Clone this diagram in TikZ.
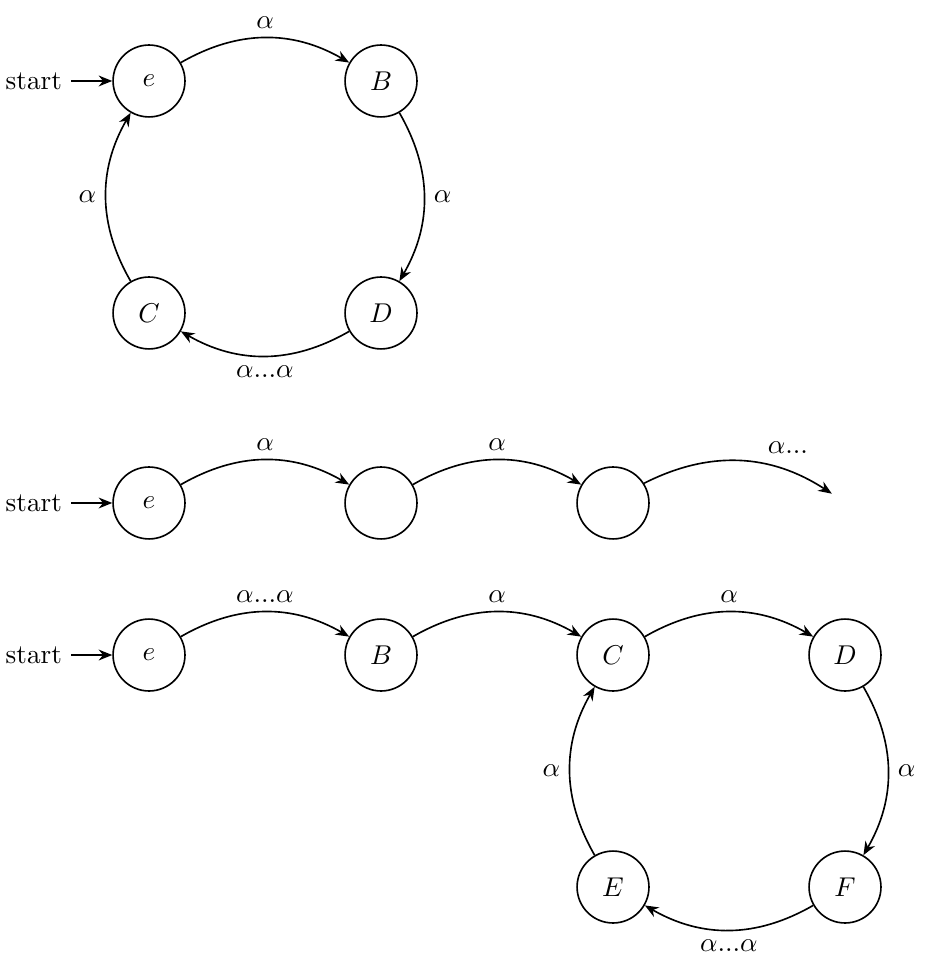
\documentclass[tikz,border=0pt]{standalone}
\usepackage{amsmath,amssymb}
\usepackage{tikz}
\usetikzlibrary{positioning,arrows.meta}

\begin{document}
\begin{tikzpicture}[
  on grid,
  node distance=3cm,
  % Plain circles for the states
  st/.style={circle, draw, semithick, minimum size=0.93cm, inner sep=0pt},
  % Text that marks the initial state
  starttxt/.style={inner sep=3.33pt},
  % Thin arrows with stealth heads
  every edge/.style={draw, semithick, -{Stealth[length=5pt, width=4pt]}},
  auto,
]
  \useasboundingbox (-1.927,1.047) rectangle (10.074,-11.522);

  % === Picture 1: a cycle through e ===
  \node[st] (e1) at (0,0) {$e$};
  \node[st,right=of e1] (B1) {$B$};
  \node[st,below=of B1] (D1) {$D$};
  \node[st,below=of e1] (C1) {$C$};
  \node[starttxt,left=1.49cm of e1] (s1) {start};

  \path (s1) edge (e1);
  \path (e1) edge[bend left] node {$\alpha$} (B1);
  \path (B1) edge[bend left] node {$\alpha$} (D1);
  \path (D1) edge[bend left] node {$\alpha...\alpha$} (C1);
  \path (C1) edge[bend left] node {$\alpha$} (e1);

  % === Picture 2: an open chain ===
  \node[st] (e2) at (0,-5.457) {$e$};
  \node[st,right=of e2] (q1) {};
  \node[st,right=of q1] (q2) {};
  \coordinate[above right=0.12cm and 2.83cm of q2] (open);
  \node[starttxt,left=1.49cm of e2] (s2) {start};

  \path (s2) edge (e2);
  \path (e2) edge[bend left] node {$\alpha$} (q1);
  \path (q1) edge[bend left] node {$\alpha$} (q2);
  \path (q2) edge[bend left] node[pos=0.6] {$\alpha...$} (open);

  % === Picture 3: a tail into a cycle ===
  \node[st] (e3) at (0,-7.423) {$e$};
  \node[st,right=of e3] (B3) {$B$};
  \node[st,right=of B3] (C3) {$C$};
  \node[st,right=of C3] (D3) {$D$};
  \node[st,below=of D3] (F3) {$F$};
  \node[st,below=of C3] (E3) {$E$};
  \node[starttxt,left=1.49cm of e3] (s3) {start};

  \path (s3) edge (e3);
  \path (e3) edge[bend left] node {$\alpha...\alpha$} (B3);
  \path (B3) edge[bend left] node {$\alpha$} (C3);
  \path (C3) edge[bend left] node {$\alpha$} (D3);
  \path (D3) edge[bend left] node {$\alpha$} (F3);
  \path (F3) edge[bend left] node {$\alpha...\alpha$} (E3);
  \path (E3) edge[bend left] node {$\alpha$} (C3);
\end{tikzpicture}
\end{document}
